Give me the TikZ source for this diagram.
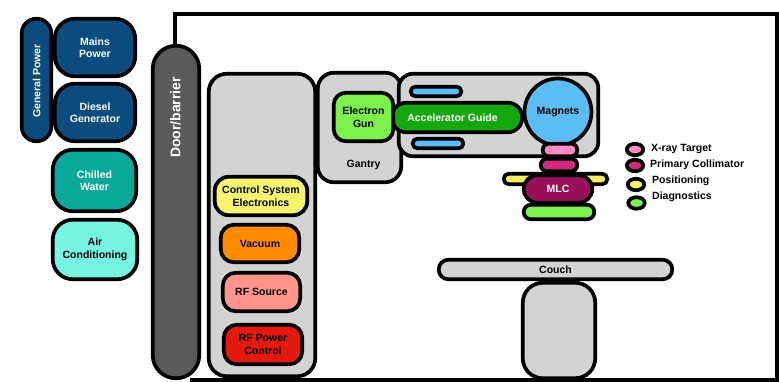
\documentclass[tikz,border=0pt]{standalone}
\usepackage{fontspec}
\setmainfont{Liberation Sans}
\usetikzlibrary{shapes.geometric}
\definecolor{pwrblue}{HTML}{0A4C7E}
\definecolor{cwteal}{HTML}{0AA898}
\definecolor{acaqua}{HTML}{78F5E2}
\definecolor{doorgray}{HTML}{5A5A5A}
\definecolor{boxgray}{HTML}{D3D3D3}
\definecolor{cseyellow}{HTML}{F7F56E}
\definecolor{vacorange}{HTML}{FF8C00}
\definecolor{rfsalmon}{HTML}{FF958A}
\definecolor{rfred}{HTML}{E3180E}
\definecolor{gunlime}{HTML}{7EF04C}
\definecolor{guidegreen}{HTML}{14A80E}
\definecolor{skyblue}{HTML}{5BBDF4}
\definecolor{xpink}{HTML}{FF8AC6}
\definecolor{pcmagenta}{HTML}{D02A7A}
\definecolor{mlcplum}{HTML}{9A1058}
\definecolor{posyellow}{HTML}{F5F062}
\begin{document}
\begin{tikzpicture}[x=1pt,y=-1pt,
  every node/.style={font=\bfseries\fontsize{10.5}{12.5}\selectfont, align=center, inner sep=0pt},
  box/.style={draw=black, line width=3.7pt, rounded corners=#1},
  box/.default=14,
  legdot/.style={ellipse, draw=black, line width=3.7pt, minimum width=16.5pt, minimum height=11.5pt},
  legtext/.style={anchor=west}
]
\useasboundingbox (0,0) rectangle (779,382);

% couch pedestal (behind room wall line)
\node[box=20, fill=boxgray, minimum width=72.5pt, minimum height=95.5pt] (pedestal) at (559,330.5) {};

% room outline
\coordinate (r1) at (174.5,48);
\coordinate (r2) at (174.5,14);
\coordinate (r3) at (777,14);
\coordinate (r4) at (777,380);
\coordinate (r5) at (190,380);
\draw[line width=4pt] (r1) -- (r2) -- (r3) -- (r4) -- (r5);

% general power group
\node[box=14.5, fill=pwrblue, minimum width=29.5pt, minimum height=122.5pt] (genpower) at (36.5,80) {};
\node[rotate=90, text=white] (genpowertext) at (36.5,81) {General Power};
\node[box=20, fill=pwrblue, text=white, minimum width=80.5pt, minimum height=57.5pt] (mains) at (95,47.5) {Mains\\Power};
\node[box=20, fill=pwrblue, text=white, minimum width=80.5pt, minimum height=57.5pt] (diesel) at (95,112.5) {Diesel\\Generator};
\node[box=20, fill=cwteal, text=white, minimum width=83.5pt, minimum height=61.5pt] (chilled) at (94.5,180.5) {Chilled\\Water};
\node[box=20, fill=acaqua, text=black, minimum width=84.5pt, minimum height=59.5pt] (aircon) at (95,249.5) {Air\\Conditioning};

% door
\node[box=23, fill=doorgray, minimum width=46.5pt, minimum height=332.5pt] (door) at (176,212) {};
\node[rotate=90, text=white, font=\bfseries\fontsize{14}{16}\selectfont] (doortext) at (175.5,117.5) {Door/barrier};

% control rack
\node[box=18, fill=boxgray, minimum width=106.5pt, minimum height=302.5pt] (rack) at (262,225) {};
\node[box=14, fill=cseyellow, minimum width=92.5pt, minimum height=38.5pt] (cse) at (261,196) {Control System\\Electronics};
\node[box=13, fill=vacorange, minimum width=78.5pt, minimum height=37.5pt] (vacuum) at (260,243.5) {Vacuum};
\node[box=13, fill=rfsalmon, minimum width=77.5pt, minimum height=38.5pt] (rfsource) at (261.5,292) {RF Source};
\node[box=13, fill=rfred, minimum width=78.5pt, minimum height=39.5pt] (rfpower) at (263,344.5) {RF Power\\Control};

% gantry and accelerator
\node[box=16, fill=boxgray, minimum width=83.5pt, minimum height=109.5pt] (gantry) at (359.5,127.5) {};
\node (gantrytext) at (363.5,165) {Gantry};
\node[box=14, fill=boxgray, minimum width=199.5pt, minimum height=82.5pt] (housing) at (498.5,115) {};
\node[box=4.5, fill=skyblue, minimum width=50.5pt, minimum height=9.5pt] (bartop) at (436,91.5) {};
\node[box=4.5, fill=skyblue, minimum width=50.5pt, minimum height=9.5pt] (barbot) at (438,143.5) {};
\node[box=14.5, fill=guidegreen, minimum width=130.5pt, minimum height=29.5pt] (guide) at (457,117.5) {};
\node[text=white] (guidetext) at (452.5,118) {Accelerator Guide};
\node[box=12, fill=gunlime, minimum width=59.5pt, minimum height=48.5pt] (gun) at (363.5,117) {Electron\\Gun};
\node[circle, draw=black, line width=3.7pt, fill=skyblue, minimum size=67pt] (magnets) at (558,112) {Magnets};

% beam line components
\node[box=6, fill=xpink, minimum width=34.5pt, minimum height=12.5pt] (xtarget) at (560,150) {};
\node[box=6, fill=pcmagenta, minimum width=36.5pt, minimum height=12.5pt] (primcoll) at (559,165) {};
\node[box=5, fill=posyellow, minimum width=103.5pt, minimum height=10.5pt] (positioning) at (555.5,179) {};
\node[box=13.5, fill=mlcplum, text=white, minimum width=68.5pt, minimum height=27.5pt] (mlc) at (558,189) {MLC};
\node[box=7, fill=gunlime, minimum width=70.5pt, minimum height=14.5pt] (diag) at (559,212) {};

% legend
\node[legdot, fill=xpink] (lx) at (635,149.5) {};
\node[legdot, fill=pcmagenta] (lp) at (635,165.5) {};
\node[legdot, fill=posyellow] (lpos) at (636,184.5) {};
\node[legdot, fill=gunlime] (ld) at (636.5,203) {};
\node[legtext] (tx) at (651,149) {X-ray Target};
\node[legtext] (tp) at (650,165) {Primary Collimator};
\node[legtext] (tpos) at (652,181) {Positioning};
\node[legtext] (td) at (652,197) {Diagnostics};

% couch
\node[box=9.5, fill=boxgray, minimum width=233.5pt, minimum height=19.5pt] (couch) at (555.5,269.5) {Couch};
\end{tikzpicture}
\end{document}
